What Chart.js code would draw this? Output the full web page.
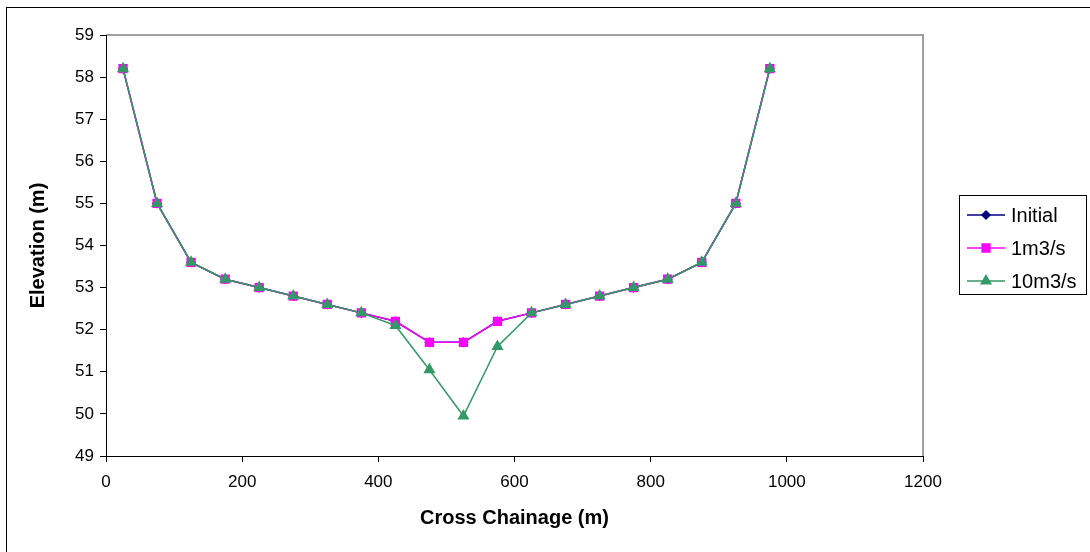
<!DOCTYPE html>
<html>
<head>
<meta charset="utf-8">
<script src="https://cdn.jsdelivr.net/npm/chart.js@4/dist/chart.umd.min.js"></script>
<style>
  body { margin: 0; background: #fff; }
  #wrap { width: 1090px; height: 552px; position: relative; }
</style>
</head>
<body>
<div id="wrap"><canvas id="xs-chart"></canvas></div>
<script>
let chainage = [25, 75, 125, 175, 225, 275, 325, 375, 425, 475, 525, 575, 625, 675, 725, 775, 825, 875, 925, 975];
let initial = [58.2, 55.0, 53.6, 53.2, 53.0, 52.8, 52.6, 52.4, 52.2, 51.7, 51.7, 52.2, 52.4, 52.6, 52.8, 53.0, 53.2, 53.6, 55.0, 58.2];
let flow1 = [58.2, 55.0, 53.6, 53.2, 53.0, 52.8, 52.6, 52.4, 52.2, 51.7, 51.7, 52.2, 52.4, 52.6, 52.8, 53.0, 53.2, 53.6, 55.0, 58.2];
let flow10 = [58.2, 55.0, 53.6, 53.2, 53.0, 52.8, 52.6, 52.4, 52.1, 51.05, 49.95, 51.6, 52.4, 52.6, 52.8, 53.0, 53.2, 53.6, 55.0, 58.2];
let seriesNames = ['Initial', '1m3/s', '10m3/s'];

const FONT = 'Arial, "Liberation Sans", sans-serif';

function points(ys) {
  return chainage.map((x, i) => ({ x: x, y: ys[i] }));
}

// white background, outer frame, grey top/right plot border
let framePlugin = {
  id: 'frame',
  beforeDraw(chart) {
    let ctx = chart.ctx;
    ctx.save();
    ctx.fillStyle = '#fff';
    ctx.fillRect(0, 0, chart.width, chart.height);
    ctx.strokeStyle = '#000';
    ctx.lineWidth = 1;
    ctx.strokeRect(6.5, 7.5, 2000, 2000);
    let a = chart.chartArea;
    ctx.strokeStyle = '#a0a0a0';
    ctx.lineWidth = 2;
    ctx.beginPath();
    ctx.moveTo(a.left, a.top);
    ctx.lineTo(a.right, a.top);
    ctx.lineTo(a.right, a.bottom);
    ctx.stroke();
    ctx.restore();
  }
};

// excel-like legend box with line + marker samples
let legendPlugin = {
  id: 'boxLegend',
  afterDraw(chart) {
    let ctx = chart.ctx;
    ctx.save();
    ctx.strokeStyle = '#000';
    ctx.lineWidth = 1;
    ctx.strokeRect(959.5, 195.5, 127, 99);
    let rows = [215, 248, 281];
    chart.data.datasets.forEach((ds, i) => {
      let y = rows[i];
      ctx.strokeStyle = ds.borderColor;
      ctx.lineWidth = 1.5;
      ctx.beginPath();
      ctx.moveTo(967, y);
      ctx.lineTo(1005, y);
      ctx.stroke();
      ctx.fillStyle = ds.backgroundColor;
      ctx.strokeStyle = ds.borderColor;
      Chart.helpers.drawPoint(ctx, {
        pointStyle: ds.pointStyle,
        radius: ds.pointRadius,
        borderWidth: 1,
        rotation: 0
      }, 986, y);
      ctx.fillStyle = '#000';
      ctx.font = '20px ' + FONT;
      ctx.textBaseline = 'middle';
      ctx.textAlign = 'left';
      ctx.fillText(ds.label, 1011, y + 1);
    });
    ctx.restore();
  }
};

let xs_chart = new Chart(document.getElementById('xs-chart'), {
  type: 'line',
  data: {
    datasets: [{
      label: seriesNames[0],
      data: points(initial),
      borderColor: '#000080',
      backgroundColor: '#000080',
      borderWidth: 1.5,
      pointStyle: 'rectRot',
      pointRadius: 4,
      order: 2
    }, {
      label: seriesNames[1],
      data: points(flow1),
      borderColor: '#ff00ff',
      backgroundColor: '#ff00ff',
      borderWidth: 1.5,
      pointStyle: 'rect',
      pointRadius: 5.5,
      order: 1
    }, {
      label: seriesNames[2],
      data: points(flow10),
      borderColor: '#339966',
      backgroundColor: '#339966',
      borderWidth: 1.5,
      pointStyle: 'triangle',
      pointRadius: 5.5,
      order: 0
    }]
  },
  options: {
    responsive: true,
    maintainAspectRatio: false,
    animation: false,
    layout: { padding: { left: 0, top: 35, right: 167, bottom: 0 } },
    plugins: {
      legend: { display: false },
      tooltip: { enabled: false }
    },
    scales: {
      x: {
        type: 'linear',
        min: 0,
        max: 1200,
        ticks: {
          stepSize: 200,
          color: '#000',
          padding: 10,
          font: { family: FONT, size: 17 },
          callback: (v) => String(v)
        },
        grid: { drawOnChartArea: false, tickLength: 6, color: '#000' },
        border: { color: '#000', width: 1 },
        title: {
          display: true,
          text: 'Cross Chainage (m)',
          color: '#000',
          font: { family: FONT, size: 20, weight: 'bold' },
          padding: { top: 0, bottom: 22 }
        },
        afterFit(scale) { scale.height = 96; }
      },
      y: {
        min: 49,
        max: 59,
        ticks: { stepSize: 1, color: '#000', padding: 6, font: { family: FONT, size: 17 } },
        grid: { drawOnChartArea: false, tickLength: 6, color: '#000' },
        border: { color: '#000', width: 1 },
        title: {
          display: true,
          text: 'Elevation (m)',
          color: '#000',
          font: { family: FONT, size: 20, weight: 'bold' },
          padding: { top: 26, bottom: 0 }
        },
        afterFit(scale) { scale.width = 106; }
      }
    }
  },
  plugins: [framePlugin, legendPlugin]
});
</script>
</body>
</html>
